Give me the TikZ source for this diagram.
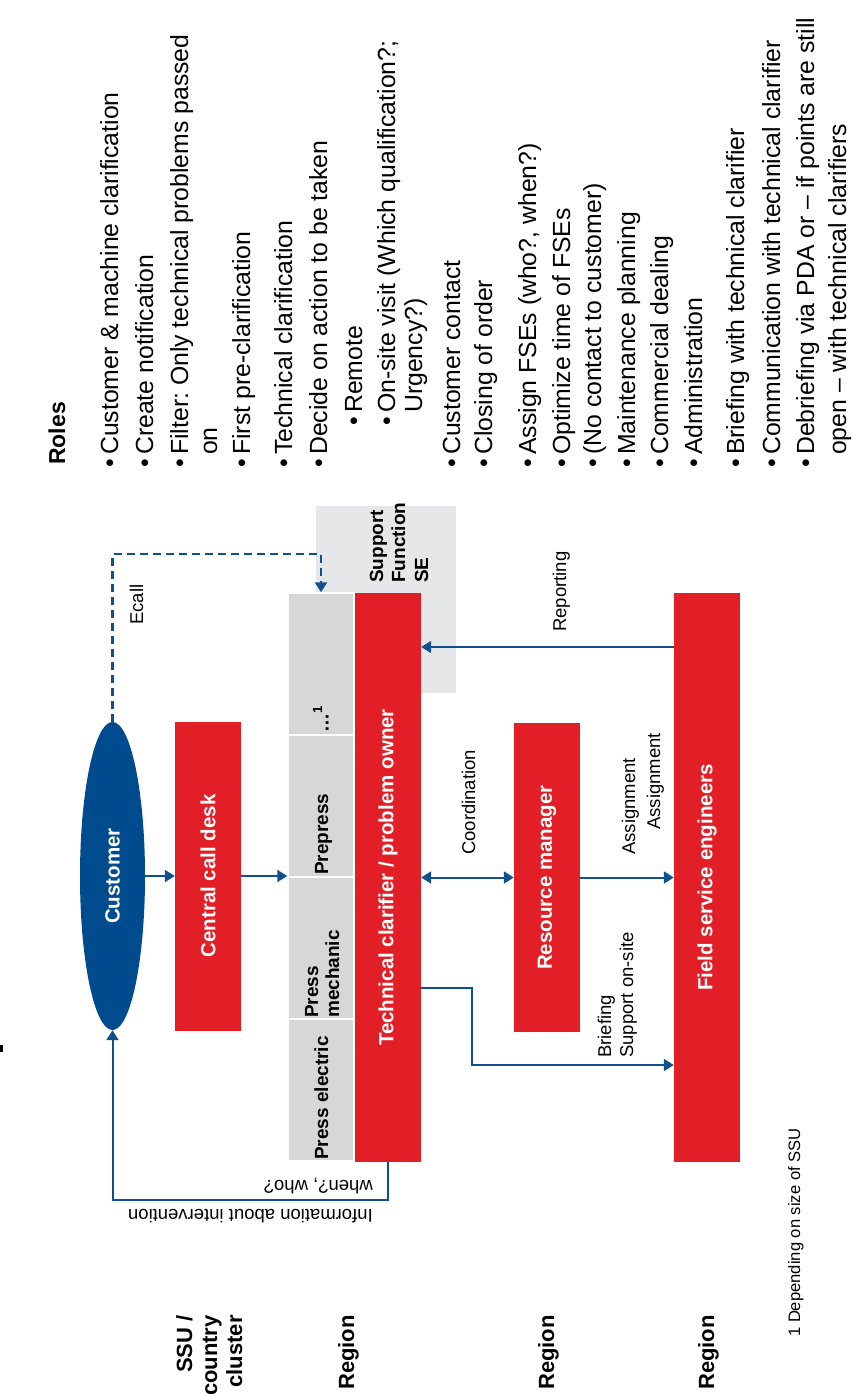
\documentclass[tikz,border=0pt]{standalone}
\usepackage{fontspec}
\setmainfont{Liberation Sans}
\usetikzlibrary{shapes.geometric,arrows.meta}
\definecolor{dred}{HTML}{E21F26}
\definecolor{dblue}{HTML}{004A8E}
\definecolor{ablue}{HTML}{11508F}
\definecolor{cgray}{HTML}{D5D8D7}
\definecolor{sgray}{HTML}{E6E7E8}
\frenchspacing
\begin{document}
\frenchspacing
\begin{tikzpicture}[x=1pt,y=-1pt,
  redbox/.style={fill=dred, draw=none, inner sep=0, minimum width=66pt},
  cellbox/.style={fill=cgray, draw=white, line width=1.5pt, inner sep=0, minimum width=66pt, minimum height=142pt},
  boxtxt/.style={rotate=90, text=white, font=\bfseries\fontsize{20.5}{24}\selectfont, inner sep=0},
  celltxt/.style={rotate=90, anchor=base west, font=\bfseries\fontsize{19}{22}\selectfont, inner sep=0},
  lbl/.style={rotate=90, anchor=base west, font=\fontsize{18.5}{22}\selectfont, inner sep=0},
  lblup/.style={rotate=180, anchor=base west, font=\fontsize{18.5}{22}\selectfont, inner sep=0},
  rowlbl/.style={rotate=90, anchor=base east, font=\bfseries\fontsize{22}{25}\selectfont, inner sep=0},
  role/.style={rotate=90, anchor=base west, font=\fontsize{24.8}{28}\selectfont, inner sep=0},
  tip/.tip={Triangle[length=10pt,width=12pt]},
  arr/.style={draw=ablue, line width=2pt, -tip},
  dbl/.style={draw=ablue, line width=2pt, tip-tip},
  ecl/.style={draw=ablue, line width=2.5pt, dash pattern=on 8pt off 5pt, -tip},
]
\useasboundingbox (0,0) rectangle (859,1394);

% small cut-off mark at the left edge
\fill (0,1045) rectangle (2.5,1052);

% support function box (behind)
\node[fill=sgray, inner sep=0, minimum width=140pt, minimum height=187pt] (supp) at (386,599.5) {};

% gray cells
\node[cellbox] (dots) at (321,664) {};
\node[cellbox] (prep) at (321,806) {};
\node[cellbox] (mech) at (321,948) {};
\node[cellbox] (elec) at (321,1090) {};

% main shapes
\node[ellipse, fill=dblue, inner sep=0, minimum width=65pt, minimum height=308pt] (cust) at (112.5,876) {};
\node[redbox, minimum height=309pt] (ccd) at (208,876) {};
\node[redbox, minimum height=569pt] (tech) at (388,877.5) {};
\node[redbox, minimum height=309pt] (rm) at (547,877.5) {};
\node[redbox, minimum height=569pt] (fse) at (707,877.5) {};

% texts in shapes
\node[boxtxt] (custT) at (cust) {Customer};
\node[boxtxt] (ccdT) at (ccd) {Central call desk};
\node[boxtxt] (techT) at (tech) {Technical clarifier / problem owner};
\node[boxtxt] (rmT) at (rm) {Resource manager};
\node[boxtxt] (fseT) at (fse) {Field service engineers};

\node[celltxt] (elecT) at (328,1160) {Press electric};
\node[celltxt] (mechT1) at (318,1018) {Press};
\node[celltxt] (mechT2) at (339,1018) {mechanic};
\node[celltxt] (prepT) at (328,875) {Prepress};
\node[celltxt] (dotsT) at (328.5,733) {…\textsuperscript{1}};

\node[celltxt] (suppT1) at (383,583) {Support};
\node[celltxt] (suppT2) at (405,583) {Function};
\node[celltxt] (suppT3) at (428,583) {SE};

% connectors
\draw[arr] (cust.east) -- (ccd.west |- cust.east);
\draw[arr] (ccd.east) -- (prep.south west |- ccd.east);
\draw[dbl] (tech) -- (rm);
\draw[arr] (rm) -- (fse);
\coordinate (rep) at (560,647);
\draw[arr] (fse.west |- rep) -- (tech.east |- rep);
\coordinate (br1) at (472,988);
\coordinate (br2) at (472,1065);
\draw[arr] (tech.east |- br1) -- (br1) -- (br2) -- (fse.west |- br2);
\coordinate (ec1) at (112.5,554);
\coordinate (ec2) at (321,554);
\draw[ecl] (cust.north) -- (ec1) -- (ec2) -- (dots.north);
\coordinate (in1) at (388,1200);
\coordinate (in2) at (112.5,1200);
\draw[arr] (tech.south) -- (in1) -- (in2) -- (cust.south);

% connector labels
\node[lbl] (ecallL) at (143,625) {Ecall};
\node[lbl] (coordL) at (475,855) {Coordination};
\node[lbl] (asgL1) at (635,855) {Assignment};
\node[lbl] (asgL2) at (660,830) {Assignment};
\node[lbl] (repL) at (566,632) {Reporting};
\node[lbl] (brfL1) at (611,1058) {Briefing};
\node[lbl] (brfL2) at (633,1058) {Support on-site};
\node[lblup] (whenL) at (373,1180) {when?, who?};
\node[lblup] (infoL) at (373,1209) {Information about intervention};

% row labels
\node[rowlbl] (row1a) at (192,1315) {SSU /};
\node[rowlbl] (row1b) at (217,1315) {country};
\node[rowlbl] (row1c) at (242,1315) {cluster};
\node[rowlbl] (row2) at (354,1315) {Region};
\node[rowlbl] (row3) at (554,1315) {Region};
\node[rowlbl] (row4) at (714,1315) {Region};

% footnote
\node[lbl, font=\fontsize{16.6}{20}\selectfont] (fn) at (800,1337) {1 Depending on size of SSU};

% roles
\node[rotate=90, anchor=base west, font=\bfseries\fontsize{23}{27}\selectfont, inner sep=0] (roles) at (65,465) {Roles};

\node[role] (bu1) at (118,468) {•};
\node[role] (r1) at (118,455) {Customer \& machine clarification};
\node[role] (bu2) at (153,468) {•};
\node[role] (r2) at (153,455) {Create notification};
\node[role] (bu3) at (188,468) {•};
\node[role] (r3) at (188,455) {Filter: Only technical problems passed};
\node[role] (r3b) at (217,455) {on};
\node[role] (bu4) at (250,468) {•};
\node[role] (r4) at (250,455) {First pre-clarification};
\node[role] (bu5) at (292,468) {•};
\node[role] (r5) at (292,455) {Technical clarification};
\node[role] (bu6) at (327,468) {•};
\node[role] (r6) at (327,455) {Decide on action to be taken};
\node[role] (bu7) at (362,426) {•};
\node[role] (r7) at (362,413) {Remote};
\node[role] (bu8) at (395,426) {•};
\node[role] (r8) at (395,413) {On-site visit (Which qualification?;};
\node[role] (r8b) at (422,413) {Urgency?)};
\node[role] (bu9) at (460,468) {•};
\node[role] (r9) at (460,455) {Customer contact};
\node[role] (bu10) at (492,468) {•};
\node[role] (r10) at (492,455) {Closing of order};
\node[role] (bu11) at (536,468) {•};
\node[role] (r11) at (536,455) {Assign FSEs (who?, when?)};
\node[role] (bu12) at (570,468) {•};
\node[role] (r12) at (570,455) {Optimize time of FSEs};
\node[role] (bu13) at (601,468) {•};
\node[role] (r13) at (601,455) {(No contact to customer)};
\node[role] (bu14) at (635,468) {•};
\node[role] (r14) at (635,455) {Maintenance planning};
\node[role] (bu15) at (668,468) {•};
\node[role] (r15) at (668,455) {Commercial dealing};
\node[role] (bu16) at (702,468) {•};
\node[role] (r16) at (702,455) {Administration};
\node[role] (bu17) at (744,468) {•};
\node[role] (r17) at (744,455) {Briefing with technical clarifier};
\node[role] (bu18) at (780,468) {•};
\node[role] (r18) at (780,455) {Communication with technical clarifier};
\node[role] (bu19) at (814,468) {•};
\node[role] (r19) at (814,455) {Debriefing via PDA or – if points are still};
\node[role] (r19b) at (846,455) {open – with technical clarifiers};
\end{tikzpicture}
\end{document}
